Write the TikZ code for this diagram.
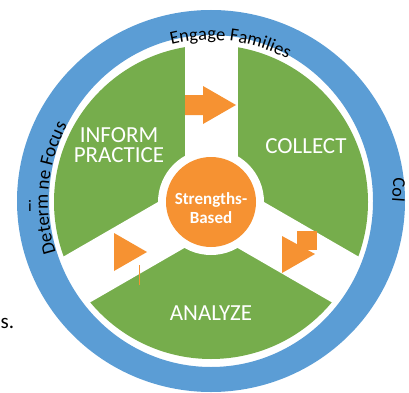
\documentclass[tikz,border=0pt]{standalone}
\usepackage{fontspec}
\setmainfont{Carlito}
\usepackage{tikz}
\usetikzlibrary{decorations.text, calc}
\definecolor{ringblue}{RGB}{91,157,213}
\definecolor{sectorgreen}{RGB}{118,173,76}
\definecolor{arroworange}{RGB}{246,146,50}

\tikzset{
  sector label/.style={font=\fontsize{23}{20}\selectfont, text=white, align=center},
  ring label/.style={font=\fontsize{18}{18}\selectfont, text=black},
  orange shape/.style={fill=arroworange, draw=none}
}

\begin{document}
\begin{tikzpicture}[x=1pt, y=1pt]
  \useasboundingbox (0,0) rectangle (409,392);
  \coordinate (hub) at (211,190);
  % green wheel cut by three white lanes
  \fill[sectorgreen] (hub) circle[radius=157];
  \foreach \a in {90,210,330}
    \draw[white, line width=53] (hub) -- ++(\a:161);
  \fill[white] (hub) circle[radius=53];
  \fill[arroworange] (hub) circle[radius=45];
  % outer ring
  \fill[ringblue, even odd rule] (211,191) ellipse[x radius=194, y radius=191]
    (211,191) ellipse[x radius=162, y radius=166];

  % arrows in the lanes
  \fill[orange shape] (185,277) -- (185,297) -- (203,297) -- (203,306)
    -- (236,287) -- (203,268) -- (203,277) -- cycle;
  \fill[orange shape] (114,159) -- (147,140) -- (114,121) -- cycle;
  \draw[arroworange, line width=0.8] (139,127) -- (139,107);
  \fill[orange shape] (282,156) -- (315,138) -- (282,119) -- cycle;
  \fill[orange shape] (297,142) rectangle (317,161);

  % labels
  \node[sector label] (inform) at (119,247) {INFORM\\PRACTICE};
  \node[sector label] (collect) at (306,246) {COLLECT};
  \node[sector label] (analyze) at (211,79) {ANALYZE};
  \node[font=\bfseries\fontsize{17}{19}\selectfont, text=white, align=center]
    (core) at (211,184) {Strengths-\\Based};

  \path[decorate, decoration={text along path, text align=center,
      text={|\fontsize{18.5}{18}\selectfont|Engage Families}}]
    ($(hub)+(115:162)$) arc[start angle=115, end angle=51, radius=162];
  \path[decorate, decoration={text along path,
      text={|\fontsize{19}{18}\selectfont|Determ ne Focus}}]
    ($(hub)+(198:163)$) arc[start angle=198, end angle=140, radius=163];
  \node[ring label, rotate=-94] (col) at (399,202) {Col};
  \node[font=\fontsize{16}{16}\selectfont] (stray) at (30,186) {i};
  \node[font=\fontsize{21}{21}\selectfont, anchor=base west, inner sep=0pt]
    (tail) at (0.5,64) {s.};
\end{tikzpicture}
\end{document}
